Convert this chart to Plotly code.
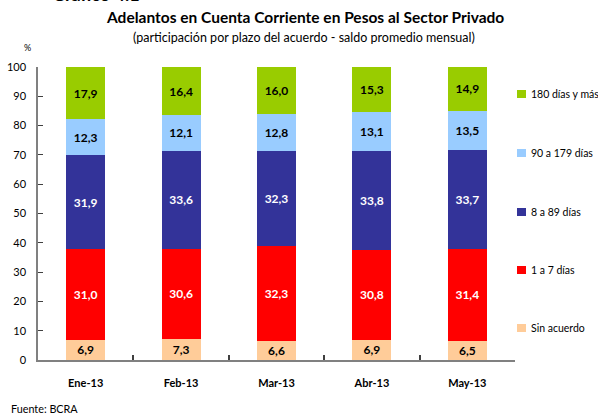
import plotly.graph_objects as go

categories = ["Ene-13", "Feb-13", "Mar-13", "Abr-13", "May-13"]
series_names = ["Sin acuerdo", "1 a 7 días", "8 a 89 días", "90 a 179 días", "180 días y más"]
sin_acuerdo = [6.9, 7.3, 6.6, 6.9, 6.5]
uno_a_siete = [31.0, 30.6, 32.3, 30.8, 31.4]
ocho_a_89 = [31.9, 33.6, 32.3, 33.8, 33.7]
noventa_a_179 = [12.3, 12.1, 12.8, 13.1, 13.5]
mas_180 = [17.9, 16.4, 16.0, 15.3, 14.9]
y_ticks = [0, 10, 20, 30, 40, 50, 60, 70, 80, 90, 100]

series_values = [sin_acuerdo, uno_a_siete, ocho_a_89, noventa_a_179, mas_180]
colors = ["#FFCC99", "#FF0000", "#333399", "#99CCFF", "#99CC00"]
text_colors = ["black", "white", "white", "black", "black"]

W, H = 598, 414
L, R, T, B = 38, 83, 67, 54
pw, ph = W - L - R, H - T - B

def px(x):
    return (x - L) / pw

def py(y):
    return (H - B - y) / ph

FONT = "Lato"

fig = go.Figure()
for name, vals, c, tc in zip(series_names, series_values, colors, text_colors):
    fig.add_trace(go.Bar(
        x=categories, y=vals, name=name, marker=dict(color=c, line=dict(width=0)),
        texttemplate="<b>%{y:.1f}</b>", textposition="inside", insidetextanchor="middle",
        textangle=0, constraintext="none", hoverinfo="skip",
        textfont=dict(family=FONT, size=12, color=tc), showlegend=False,
    ))

annotations = [
    dict(text="<b>Adelantos en Cuenta Corriente en Pesos al Sector Privado</b>", x=px(305), y=py(17),
         font=dict(family=FONT, size=15.5, color="black")),
    dict(text="(participación por plazo del acuerdo - saldo promedio mensual)", x=px(304), y=py(37),
         font=dict(family=FONT, size=12.5, color="black")),
    dict(text="%", x=px(27), y=py(48), font=dict(family=FONT, size=9, color="black")),
    dict(text="Fuente: BCRA", x=px(9), y=py(408), xanchor="left",
         font=dict(family=FONT, size=10.8, color="black")),
    dict(text="<b>Gráfico 4.1</b>", x=px(50), y=py(-6), xanchor="left",
         font=dict(family=FONT, size=18, color="black")),
]
for a in annotations:
    a.update(xref="paper", yref="paper", showarrow=False)
    a.setdefault("xanchor", "center")
    a["yanchor"] = "middle"

legend_y = [328, 270, 212, 153, 94]
shapes = []
for name, c, ly in zip(series_names, colors, legend_y):
    shapes.append(dict(type="rect", xref="paper", yref="paper",
                       x0=px(517), x1=px(526), y0=py(ly + 4), y1=py(ly - 4),
                       fillcolor=c, line=dict(width=0)))
    annotations.append(dict(text=name, xref="paper", yref="paper", x=px(529), y=py(ly),
                            xanchor="left", yanchor="middle", showarrow=False,
                            font=dict(family=FONT, size=10.5, color="black")))

fig.update_layout(
    barmode="stack", bargap=0.59, width=W, height=H,
    margin=dict(l=L, r=R, t=T, b=B, autoexpand=False),
    plot_bgcolor="white", paper_bgcolor="white", separators=",.",
    annotations=annotations, shapes=shapes, showlegend=False,
    font=dict(family=FONT, color="black"),
)
fig.update_xaxes(
    showline=True, linecolor="#808080", linewidth=2, ticks="inside", tickson="boundaries",
    ticklen=5, tickcolor="#404040", tickwidth=1.5, showgrid=False,
    tickfont=dict(family=FONT, size=11, color="black"), tickprefix="<b>", ticksuffix="</b>",
    ticklabelstandoff=12,
)
fig.update_yaxes(
    range=[0, 100], tickvals=y_ticks, showline=True, linecolor="#808080", linewidth=1.5,
    ticks="inside", ticklen=5, tickcolor="#404040", showgrid=False, zeroline=False,
    tickfont=dict(family=FONT, size=11, color="black"), tickprefix="<b>", ticksuffix="</b>",
    ticklabelstandoff=8,
)
fig.write_html("out.html", config={"displayModeBar": False},
               post_script="document.body.style.margin='0';")
